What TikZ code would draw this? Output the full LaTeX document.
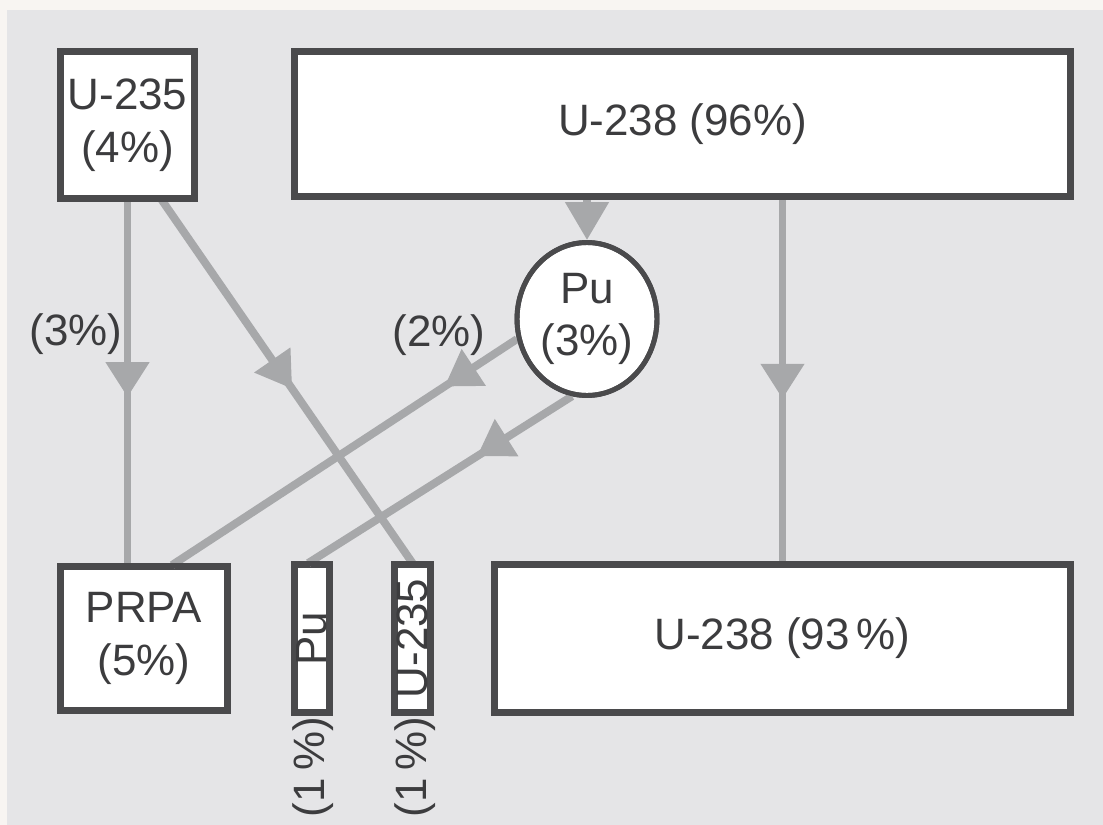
\documentclass[tikz,border=0pt]{standalone}
\usepackage{fontspec}
\setmainfont{Liberation Sans}
\usetikzlibrary{shapes.geometric,arrows.meta,decorations.markings,calc}

\definecolor{outerbg}{HTML}{F8F5F2}
\definecolor{panel}{HTML}{E5E5E7}
\definecolor{boxline}{HTML}{4A4A4C}
\definecolor{flowgray}{HTML}{A7A8AA}
\definecolor{txtgray}{HTML}{3C3C3E}

\begin{document}
\begin{tikzpicture}[x=0.02cm,y=-0.02cm,
   box/.style={draw=boxline,fill=white,line width=2.8pt,inner sep=0pt,align=center,
      text=txtgray,font=\fontsize{25}{30}\selectfont},
   lbl/.style={text=txtgray,inner sep=0pt,font=\fontsize{25}{30}\selectfont},
   flow/.style={draw=flowgray,line width=4.5pt},
   midtip/.style={postaction={decorate},decoration={markings,
      mark=at position #1 with {\arrow[flowgray]{Triangle[length=0.7cm,width=0.84cm]}}}}]
   \useasboundingbox (0,0) rectangle (1103,825);
   \fill[outerbg] (0,0) rectangle (1103,825);
   \fill[panel] (7,10) rectangle (1103,825);
   % top row
   \node[box,minimum width=2.64cm,minimum height=2.9cm] (u235a) at (127.5,125) {U-235\\(4\%)};
   \node[box,minimum width=15.48cm,minimum height=2.86cm] (u238a) at (682.5,124) {U-238 (96\%)};
   \node[box,ellipse,minimum width=2.8cm,minimum height=3.06cm] (pu) at (587,319) {Pu\\(3\%)};
   % bottom row
   \node[box,minimum width=3.3cm,minimum height=2.84cm] (prpa) at (144,638.5) {PRPA\\(5\%)};
   \node[box,minimum width=0.66cm,minimum height=2.92cm] (pub) at (312,638.5) {\rotatebox{90}{Pu}};
   \node[box,minimum width=0.68cm,minimum height=2.92cm] (u235b) at (412.5,638.5) {\rotatebox{90}{U-235}};
   \node[box,minimum width=11.48cm,minimum height=2.92cm] (u238b) at (782.5,638.5) {U-238 (93\,\%)};
   % flows
   \draw[flow,midtip=0.54] (u235a.south) -- (u235a.south |- prpa.north);
   \draw[flow,midtip=0.52] ($(u235a.south west)!0.75!(u235a.south east)$) -- (u235b.north);
   \draw[flow,-{Triangle[length=0.76cm,width=0.84cm]}] (pu.north |- u238a.south) -- (pu.north);
   \draw[flow,midtip=0.21] (pu.196) -- ($(prpa.north west)!0.665!(prpa.north east)$);
   \draw[flow,midtip=0.36] (pu.259) -- ($(pub.north west)!0.4!(pub.north east)$);
   \draw[flow,midtip=0.55] (u238a.south -| u238b.north) -- (u238b.north);
   % redraw boxes over line ends
   \foreach \n in {u235a,u238a,prpa,pub,u235b,u238b}
      \draw[boxline,line width=2.8pt] (\n.south west) rectangle (\n.north east);
   \draw[boxline,line width=2.8pt] (pu.center) ellipse [x radius=1.4cm,y radius=1.53cm];
   % percentages on flows
   \node[lbl] (p3) at (76,334) {(3\%)};
   \node[lbl] (p2) at (439,335) {(2\%)};
   \node[lbl,rotate=90] (p1a) at (313,767) {(1\,\%)};
   \node[lbl,rotate=90] (p1b) at (415,767) {(1\,\%)};
\end{tikzpicture}
\end{document}
